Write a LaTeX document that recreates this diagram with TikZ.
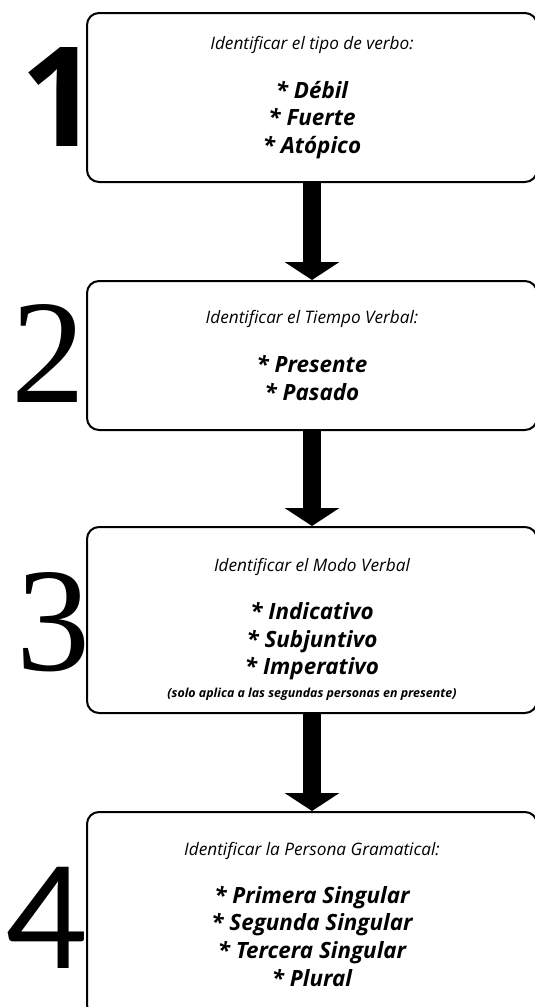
\documentclass[tikz,border=0pt]{standalone}
\usepackage{fontspec}
\setmainfont{Open Sans}
\newfontfamily\numserif{Liberation Serif}
\newfontfamily\numsans{Lato}
\usetikzlibrary{arrows.meta}

\newcommand\headline[1]{{\fontsize{12.9}{14}\selectfont\mdseries #1}}

\begin{document}
\begin{tikzpicture}[x=0.75pt,y=-0.75pt,
    stepbox/.style={draw,line width=1.5pt,rounded corners=9pt,anchor=north west,
      minimum width=337.5pt,inner sep=0pt,align=center,
      font=\fontsize{16.8}{20.8}\selectfont\bfseries\itshape},
    bignum/.style={inner sep=0pt},
    flow/.style={line width=13.5pt,-{Triangle[width=40.5pt,length=13.5pt]}}]
  \useasboundingbox (0,0) rectangle (535,1007);
  \clip (0,0) rectangle (535,1007);

  \node[stepbox,minimum height=126.75pt] (s1) at (86,12)
    {\headline{Identificar el tipo de verbo:}\\[16pt]
     * Débil\\ * Fuerte\\ * Atópico};
  \node[stepbox,minimum height=111.75pt] (s2) at (86,280)
    {\headline{Identificar el Tiempo Verbal:}\\[16pt]
     * Presente\\ * Pasado};
  \node[stepbox,minimum height=139.5pt] (s3) at (86,526)
    {\rule{0pt}{24pt}\headline{Identificar el Modo Verbal}\\[15pt]
     * Indicativo\\ * Subjuntivo\\ * Imperativo\\[-4pt]
     {\fontsize{9.3}{10}\selectfont (solo aplica a las segundas personas en presente)}};
  \node[stepbox,minimum height=153.75pt] (s4) at (86,811)
    {\headline{Identificar la Persona Gramatical:}\\[15pt]
     * Primera Singular\\ * Segunda Singular\\ * Tercera Singular\\ * Plural};

  % step numbers
  \node[bignum,font=\fontsize{104}{104}\selectfont\bfseries] (n1) at (60,97.5) {1};
  \node[bignum,font=\fontsize{111}{111}\selectfont\numserif] (n2) at (48.5,353) {2};
  \node[bignum,font=\fontsize{111}{111}\selectfont\numserif] (n3) at (53.5,622.5) {3};
  \node[bignum,font=\fontsize{106}{106}\selectfont\numsans] (n4) at (47,917.5) {4};

  \draw[flow] (s1.south) -- (s2.north);
  \draw[flow] (s2.south) -- (s3.north);
  \draw[flow] (s3.south) -- (s4.north);
\end{tikzpicture}
\end{document}
